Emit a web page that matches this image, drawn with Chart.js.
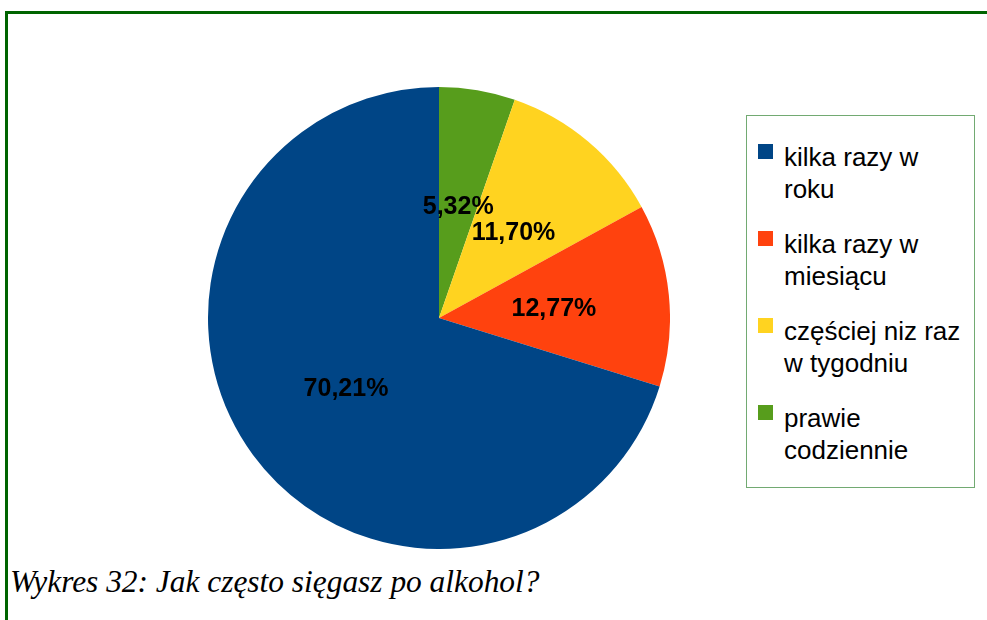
<!DOCTYPE html>
<html>
<head>
    <meta charset="utf-8">
    <title>Wykres 32</title>
    <script src="https://cdn.jsdelivr.net/npm/chart.js"></script>
    <style>
        body { margin: 0; background: #fff; width: 987px; height: 620px; overflow: hidden; position: relative; font-family: "Liberation Sans", Arial, sans-serif; }
        .frame { position: absolute; left: 5px; top: 11px; width: 1000px; height: 700px; border-top: 3px solid #006400; border-left: 3px solid #006400; }
        .pie-box { position: absolute; left: 208px; top: 87px; width: 462px; height: 462px; }
        .legend { position: absolute; left: 746px; top: 115px; width: 229px; height: 373px; box-sizing: border-box; border: 1.5px solid #72aa72; padding: 25px 0 0 11px; }
        .legend-item { position: relative; padding-left: 26px; font-size: 26px; line-height: 32px; color: #000; margin-bottom: 23px; white-space: nowrap; }
        .legend-item span { position: absolute; left: 0; top: 3px; width: 15px; height: 15px; }
        .caption { position: absolute; left: 10px; top: 564px; font-family: "Liberation Serif", "Times New Roman", serif; font-style: italic; font-size: 31.4px; color: #000; }
    </style>
</head>
<body>
    <div class="frame"></div>
    <div class="pie-box"><canvas id="pieChart" width="462" height="462"></canvas></div>
    <div class="legend" id="legend"></div>
    <div class="caption">Wykres 32: Jak często sięgasz po alkohol?</div>

    <script>
    // clockwise from 12 o'clock; legend lists them the other way round
    const labels = ['prawie codziennie', 'częściej niz raz w tygodniu', 'kilka razy w miesiącu', 'kilka razy w roku'];
    const legendLines = [['prawie', 'codziennie'], ['częściej niz raz', 'w tygodniu'], ['kilka razy w', 'miesiącu'], ['kilka razy w', 'roku']];
    const values = [5.32, 11.70, 12.77, 70.21];
    const colors = ['#579d1c', '#ffd320', '#ff420e', '#004586'];

    const pctLabels = {
        id: 'pctLabels',
        afterDatasetsDraw(chart) {
            const ctx = chart.ctx;
            const meta = chart.getDatasetMeta(0);
            ctx.save();
            ctx.font = 'bold 25px "Liberation Sans", Arial, sans-serif';
            ctx.fillStyle = '#000';
            ctx.textAlign = 'center';
            ctx.textBaseline = 'middle';
            meta.data.forEach((arc, i) => {
                const p = arc.getCenterPoint();
                ctx.fillText(values[i].toFixed(2).replace('.', ',') + '%', p.x, p.y + 3);
            });
            ctx.restore();
        }
    };

    new Chart(document.getElementById('pieChart').getContext('2d'), {
        type: 'pie',
        data: {
            labels: labels,
            datasets: [{
                data: values,
                backgroundColor: colors,
                borderWidth: 0
            }]
        },
        options: {
            responsive: false,
            animation: false,
            layout: { padding: 0 },
            plugins: {
                legend: { display: false },
                tooltip: { enabled: false }
            }
        },
        plugins: [pctLabels]
    });

    // html legend, reversed order like the original
    let html = '';
    for (let i = values.length - 1; i >= 0; i--) {
        html += `<div class="legend-item"><span style="background:${colors[i]}"></span>${legendLines[i].join('<br>')}</div>`;
    }
    document.getElementById('legend').innerHTML = html;
    </script>
</body>
</html>
